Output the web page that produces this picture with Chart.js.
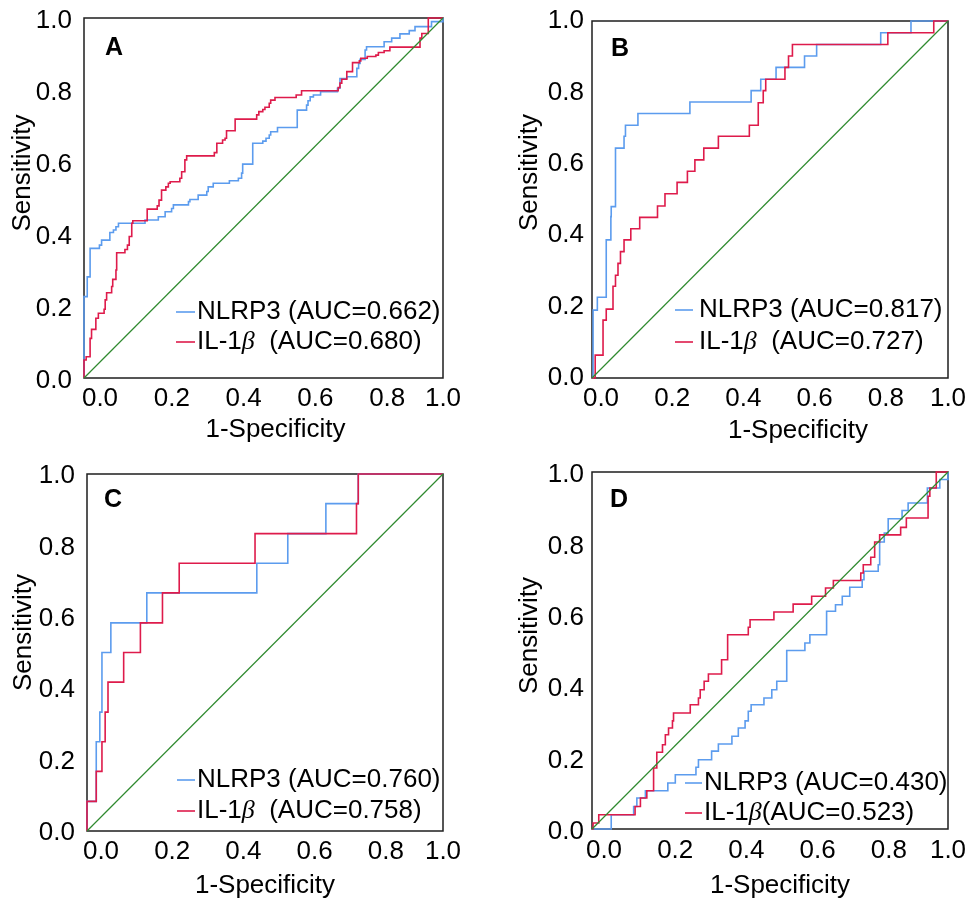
<!DOCTYPE html>
<html><head><meta charset="utf-8">
<script src="https://cdn.jsdelivr.net/npm/chart.js@4.4.1/dist/chart.umd.min.js"></script>
<style>
html,body{margin:0;padding:0;background:#fff;}
#wrap{position:relative;width:974px;height:898px;overflow:hidden;background:#fff;}
canvas{position:absolute;}
</style></head><body><div id="wrap">
<canvas id="cA" width="487" height="449" style="left:0px;top:0px"></canvas>
<canvas id="cB" width="487" height="449" style="left:487px;top:0px"></canvas>
<canvas id="cC" width="487" height="449" style="left:0px;top:449px"></canvas>
<canvas id="cD" width="487" height="449" style="left:487px;top:449px"></canvas>
</div>
<script>
// ---------- DATA ----------
const axisTicks = [0, 0.2, 0.4, 0.6, 0.8, 1.0];
const panelLetters = ['A', 'B', 'C', 'D'];
const xTitleText = '1-Specificity';
const yTitleText = 'Sensitivity';
const nlrp3Labels = ['NLRP3 (AUC=0.662)', 'NLRP3 (AUC=0.817)', 'NLRP3 (AUC=0.760)', 'NLRP3 (AUC=0.430)'];
const il1bLabels = ['IL-1β  (AUC=0.680)', 'IL-1β  (AUC=0.727)', 'IL-1β  (AUC=0.758)', 'IL-1β(AUC=0.523)'];
const referenceLine = [[0, 0], [1, 1]];

// ROC points [1-specificity, sensitivity] (top of each vertical run)
const rocA_nlrp3 = [[0,0],[0,0.226],[0.009,0.281],[0.017,0.360],[0.043,0.369],[0.049,0.383],[0.072,0.404],[0.082,0.411],[0.089,0.420],[0.096,0.430],[0.170,0.439],[0.207,0.448],[0.226,0.462],[0.244,0.471],[0.249,0.481],[0.291,0.490],[0.295,0.496],[0.318,0.508],[0.342,0.518],[0.346,0.531],[0.360,0.541],[0.405,0.548],[0.430,0.555],[0.439,0.569],[0.442,0.594],[0.470,0.652],[0.498,0.658],[0.507,0.666],[0.516,0.675],[0.520,0.684],[0.539,0.696],[0.594,0.744],[0.620,0.758],[0.624,0.770],[0.630,0.781],[0.639,0.786],[0.659,0.795],[0.706,0.805],[0.713,0.832],[0.732,0.837],[0.760,0.860],[0.765,0.874],[0.769,0.885],[0.783,0.911],[0.787,0.920],[0.836,0.934],[0.857,0.944],[0.880,0.956],[0.906,0.965],[0.922,0.976],[0.968,0.990],[1,0.990],[1,1]];
const rocA_il1b = [[0,0],[0,0.050],[0.006,0.059],[0.017,0.110],[0.021,0.135],[0.033,0.166],[0.040,0.180],[0.056,0.191],[0.059,0.217],[0.063,0.237],[0.077,0.254],[0.080,0.274],[0.089,0.300],[0.091,0.348],[0.114,0.357],[0.121,0.369],[0.126,0.393],[0.133,0.430],[0.136,0.437],[0.176,0.469],[0.204,0.478],[0.209,0.494],[0.216,0.522],[0.228,0.531],[0.235,0.541],[0.240,0.545],[0.267,0.555],[0.272,0.573],[0.281,0.606],[0.286,0.617],[0.363,0.626],[0.370,0.652],[0.386,0.661],[0.393,0.666],[0.397,0.687],[0.421,0.719],[0.481,0.731],[0.487,0.740],[0.498,0.746],[0.504,0.752],[0.516,0.763],[0.520,0.772],[0.532,0.779],[0.591,0.786],[0.606,0.798],[0.708,0.807],[0.713,0.819],[0.718,0.830],[0.732,0.851],[0.748,0.876],[0.767,0.881],[0.771,0.888],[0.789,0.893],[0.813,0.897],[0.820,0.904],[0.836,0.909],[0.852,0.919],[0.936,0.944],[0.941,0.957],[0.959,0.971],[0.959,1],[1,1]];
const rocB_nlrp3 = [[0,0],[0.003,0.190],[0.015,0.226],[0.040,0.387],[0.053,0.452],[0.054,0.480],[0.066,0.644],[0.090,0.677],[0.094,0.708],[0.129,0.741],[0.275,0.773],[0.447,0.805],[0.474,0.837],[0.517,0.870],[0.597,0.902],[0.631,0.934],[0.811,0.967],[0.896,1],[1,1]];
const rocB_il1b = [[0,0],[0.009,0.064],[0.031,0.162],[0.040,0.193],[0.059,0.257],[0.066,0.288],[0.073,0.321],[0.080,0.354],[0.090,0.387],[0.109,0.418],[0.134,0.450],[0.184,0.482],[0.205,0.516],[0.239,0.548],[0.268,0.579],[0.289,0.611],[0.314,0.644],[0.355,0.677],[0.442,0.708],[0.467,0.771],[0.481,0.805],[0.488,0.837],[0.542,0.870],[0.552,0.902],[0.563,0.934],[0.831,0.967],[0.960,1],[1,1]];
const rocC_nlrp3 = [[0,0],[0,0.083],[0.026,0.250],[0.036,0.333],[0.042,0.500],[0.067,0.583],[0.168,0.667],[0.477,0.750],[0.564,0.833],[0.671,0.917],[0.762,1],[1,1]];
const rocC_il1b = [[0,0],[0,0.083],[0.026,0.167],[0.042,0.250],[0.051,0.333],[0.059,0.417],[0.103,0.500],[0.150,0.583],[0.212,0.667],[0.259,0.750],[0.472,0.833],[0.757,0.917],[0.762,1],[1,1]];
const rocD_nlrp3 = [[0,0],[0.054,0.040],[0.117,0.063],[0.126,0.087],[0.150,0.107],[0.213,0.129],[0.234,0.152],[0.292,0.173],[0.299,0.194],[0.336,0.218],[0.355,0.238],[0.393,0.260],[0.411,0.283],[0.430,0.303],[0.439,0.330],[0.447,0.348],[0.483,0.367],[0.505,0.390],[0.519,0.414],[0.547,0.500],[0.598,0.521],[0.612,0.544],[0.659,0.610],[0.684,0.628],[0.703,0.652],[0.724,0.677],[0.759,0.698],[0.764,0.722],[0.804,0.740],[0.808,0.804],[0.821,0.829],[0.832,0.869],[0.871,0.892],[0.888,0.913],[0.942,0.955],[0.977,0.979],[1,0.979],[1,1]];
const rocD_il1b = [[0,0],[0.003,0.017],[0.019,0.040],[0.121,0.063],[0.136,0.087],[0.154,0.107],[0.173,0.171],[0.182,0.215],[0.198,0.236],[0.206,0.264],[0.215,0.283],[0.226,0.303],[0.229,0.325],[0.276,0.348],[0.299,0.367],[0.304,0.390],[0.315,0.414],[0.327,0.434],[0.364,0.474],[0.381,0.544],[0.439,0.565],[0.444,0.586],[0.511,0.608],[0.565,0.630],[0.617,0.652],[0.656,0.675],[0.678,0.696],[0.755,0.717],[0.762,0.740],[0.783,0.761],[0.794,0.804],[0.808,0.824],[0.867,0.845],[0.883,0.871],[0.944,0.932],[0.949,0.955],[0.967,1],[1,1]];

// ---------- STYLE / LAYOUT ----------
const FONT = "'Liberation Sans', Arial, Helvetica, sans-serif";
const SERIF = "'Liberation Serif', 'DejaVu Serif', serif";
const BLUE = '#5c9cee';
const RED = '#de1b4b';
const GREEN = '#2f8a2f';
const CW = 487, CH = 449;

const layouts = [
  {id:'cA', canvas:[0,0],     area:[84,18,443,378],  xLabelOffset:16, yLabelOffset:3, xTickPad:5, yTickPad:12,
   letterPos:[30,30], xTitlePos:[12,52], yTitlePos:[-61,-25], legendLine:[92,111], legendText:113, legendRows:[-66,-36]},
  {id:'cB', canvas:[487,0],   area:[592,21,948,378], xLabelOffset:9,  yLabelOffset:0, xTickPad:5, yTickPad:8,
   letterPos:[28,28], xTitlePos:[28,53], yTitlePos:[-62,-27], legendLine:[83,101], legendText:107, legendRows:[-68,-36]},
  {id:'cC', canvas:[0,449],   area:[87,474,443,831], xLabelOffset:14, yLabelOffset:2, xTickPad:5, yTickPad:12,
   letterPos:[26,26], xTitlePos:[0,55],  yTitlePos:[-63,-20], legendLine:[90,108], legendText:110, legendRows:[-51,-20]},
  {id:'cD', canvas:[487,449], area:[592,472,948,829], xLabelOffset:12, yLabelOffset:3, xTickPad:6, yTickPad:8,
   letterPos:[27,28], xTitlePos:[10,57], yTitlePos:[-62,-15], legendLine:[93,110], legendText:112, legendRows:[-46,-16]}
];
const rocSets = [[rocA_nlrp3, rocA_il1b], [rocB_nlrp3, rocB_il1b], [rocC_nlrp3, rocC_il1b], [rocD_nlrp3, rocD_il1b]];

const toPts = arr => arr.map(([x, y]) => ({x, y}));

const decorPlugin = {
  id: 'decor',
  beforeDatasetsDraw(chart) {
    const {ctx, chartArea: a} = chart;
    ctx.save();
    ctx.strokeStyle = '#1e1e1e';
    ctx.lineWidth = 1.5;
    ctx.strokeRect(a.left, a.top, a.right - a.left, a.bottom - a.top);
    ctx.restore();
  },
  afterDraw(chart, args, o) {
    const {ctx, chartArea: a} = chart;
    ctx.save();
    ctx.fillStyle = '#000';
    ctx.textBaseline = 'middle';
    ctx.textAlign = 'center';
    ctx.font = 'bold 25px ' + FONT;
    ctx.fillText(o.letter, a.left + o.letterPos[0], a.top + o.letterPos[1]);
    ctx.font = '26px ' + FONT;
    ctx.fillText(xTitleText, (a.left + a.right) / 2 + o.xTitlePos[0], a.bottom + o.xTitlePos[1]);
    ctx.save();
    ctx.translate(a.left + o.yTitlePos[0], (a.top + a.bottom) / 2 + o.yTitlePos[1]);
    ctx.rotate(-Math.PI / 2);
    ctx.fillText(yTitleText, 0, 0);
    ctx.restore();
    // legend
    ctx.textAlign = 'left';
    chart.data.datasets.slice(0, 2).forEach((ds, i) => {
      const y = a.bottom + o.legendRows[i];
      ctx.strokeStyle = ds.borderColor;
      ctx.lineWidth = 1.6;
      ctx.beginPath();
      ctx.moveTo(a.left + o.legendLine[0], y);
      ctx.lineTo(a.left + o.legendLine[1], y);
      ctx.stroke();
      let x = a.left + o.legendText;
      const parts = ds.label.split('β');
      parts.forEach((part, j) => {
        if (j > 0) {
          ctx.font = 'italic 26px ' + SERIF;
          ctx.fillText('β', x, y);
          x += ctx.measureText('β').width;
        }
        ctx.font = '26px ' + FONT;
        ctx.fillText(part, x, y);
        x += ctx.measureText(part).width;
      });
    });
    ctx.restore();
  }
};

layouts.forEach((L, k) => {
  const [cx, cy] = L.canvas;
  const [al, at, ar, ab] = L.area;
  const [nl, il] = rocSets[k];
  const tickFont = {family: FONT, size: 26};
  new Chart(document.getElementById(L.id), {
    type: 'scatter',
    data: {
      datasets: [
        {label: nlrp3Labels[k], data: toPts(nl), showLine: true, stepped: true, borderColor: BLUE, backgroundColor: BLUE,
         borderWidth: 1.6, pointRadius: 0, fill: false, order: 3, clip: false},
        {label: il1bLabels[k], data: toPts(il), showLine: true, stepped: true, borderColor: RED, backgroundColor: RED,
         borderWidth: 1.6, pointRadius: 0, fill: false, order: 2, clip: false},
        {label: 'Reference', data: toPts(referenceLine), showLine: true, borderColor: GREEN, backgroundColor: GREEN,
         borderWidth: 1.2, pointRadius: 0, fill: false, order: 1, clip: false}
      ]
    },
    options: {
      responsive: false, animation: false, devicePixelRatio: 1,
      layout: {padding: {left: 0, top: at - cy, right: cx + CW - ar, bottom: 0}},
      scales: {
        x: {
          type: 'linear', min: 0, max: 1,
          grid: {display: false, drawTicks: false}, border: {display: false},
          afterBuildTicks: s => { s.ticks = axisTicks.map(v => ({value: v})); },
          afterFit: s => { s.height = cy + CH - ab; s.paddingLeft = 0; s.paddingRight = 0; },
          afterUpdate: s => {
            // last label (1.0) sits centred on its tick, the others are shifted right
            if (!s._origCompute) {
              s._origCompute = s._computeLabelItems;
              s._computeLabelItems = function (ca) {
                const items = s._origCompute.call(this, ca);
                const last = items[items.length - 1];
                if (last && last.options && last.options.translation) last.options.translation[0] -= L.xLabelOffset;
                return items;
              };
            }
          },
          ticks: {callback: v => Number(v).toFixed(1), font: tickFont, color: '#000', padding: L.xTickPad,
                  labelOffset: L.xLabelOffset, maxRotation: 0, autoSkip: false}
        },
        y: {
          type: 'linear', min: 0, max: 1,
          grid: {display: false, drawTicks: false}, border: {display: false},
          afterBuildTicks: s => { s.ticks = axisTicks.map(v => ({value: v})); },
          afterFit: s => { s.width = al - cx; s.paddingTop = 0; s.paddingBottom = 0; },
          ticks: {callback: v => Number(v).toFixed(1), font: tickFont, color: '#000', padding: L.yTickPad,
                  labelOffset: L.yLabelOffset, autoSkip: false}
        }
      },
      plugins: {
        legend: {display: false}, tooltip: {enabled: false},
        decor: Object.assign({letter: panelLetters[k]}, L)
      }
    },
    plugins: [decorPlugin]
  });
});
</script>
</body></html>
